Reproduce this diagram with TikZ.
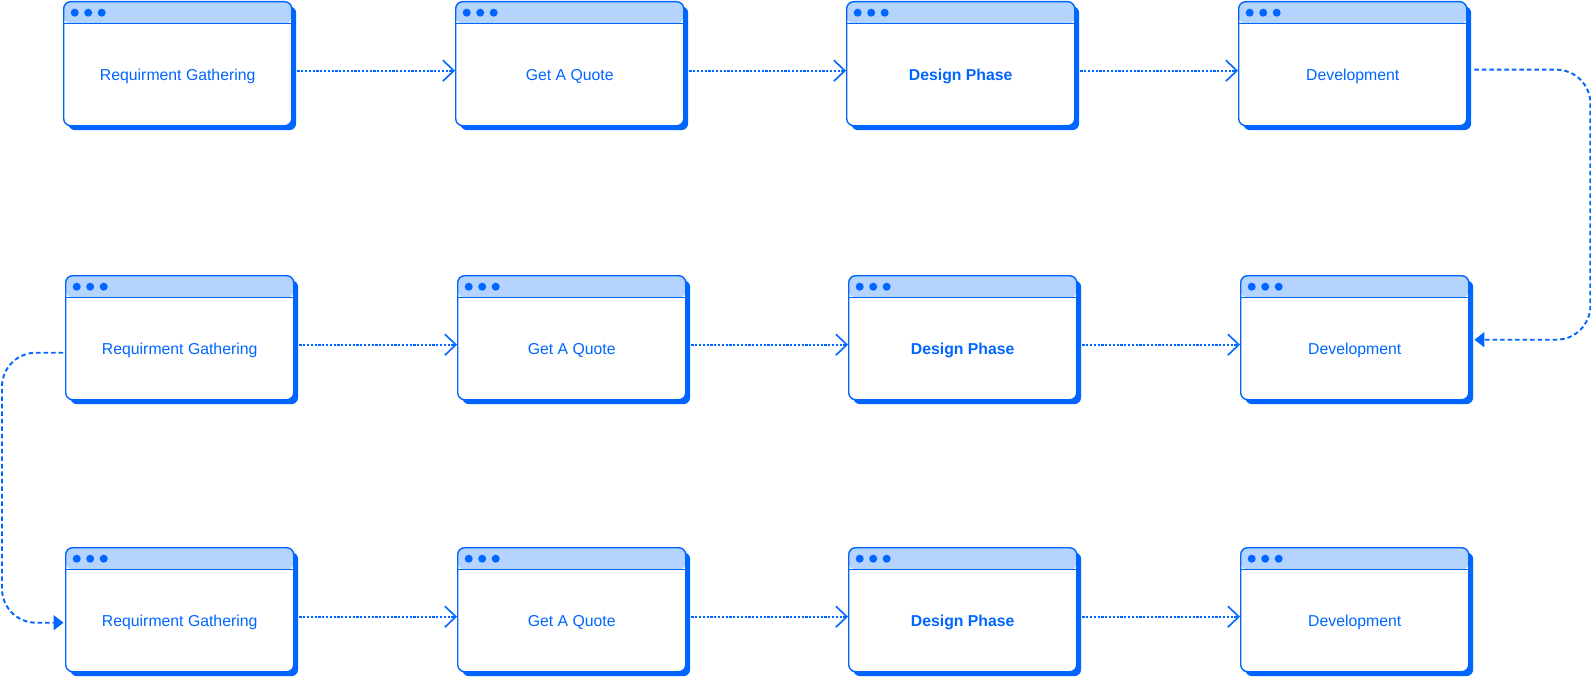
\documentclass[tikz,border=0pt]{standalone}
\usepackage{fontspec}
\setmainfont{Liberation Sans}
\usetikzlibrary{arrows.meta,shadows}
\definecolor{winblue}{HTML}{0066FF}
\definecolor{headblue}{HTML}{B5D3FF}

\begin{document}
\begin{tikzpicture}[x=1pt,y=-1pt,
        window/.style={anchor=north west, draw=winblue, line width=1.4pt, fill=white,
            rounded corners=7pt, minimum width=228pt, minimum height=124pt, inner sep=0pt,
            drop shadow={fill=winblue, opacity=1, shadow xshift=4.5pt, shadow yshift=-4.5pt},
            path picture={
                \fill[headblue] (path picture bounding box.north west) rectangle ([yshift=-22pt]path picture bounding box.north east);
                \draw[winblue, line width=1.4pt] ([yshift=-22pt]path picture bounding box.north west)--([yshift=-22pt]path picture bounding box.north east);
                \fill[winblue] ([xshift=11pt,yshift=-11pt]path picture bounding box.north west) circle (4pt);
                \fill[winblue] ([xshift=24.5pt,yshift=-11pt]path picture bounding box.north west) circle (4pt);
                \fill[winblue] ([xshift=38pt,yshift=-11pt]path picture bounding box.north west) circle (4pt);
            }},
        wintxt/.style={yshift=-12.5pt, text=winblue, font=\fontsize{15.8}{18}\selectfont},
        flow/.style={winblue, line width=2.2pt, dash pattern=on 2.2pt off 1.6pt,
            -{Straight Barb[length=11pt,width=21pt,line width=1.6pt]}},
        loopback/.style={winblue, line width=1.9pt, dash pattern=on 4.5pt off 3pt, rounded corners=34pt,
            -{Triangle[length=10pt,width=15pt]}}]
    \useasboundingbox (0,0) rectangle (1591,677);

    % first row
    \node[window, label={[wintxt]center:Requirment Gathering}] (rg1) at (63,1) {};
    \node[window, label={[wintxt]center:Get A Quote}] (gq1) at (455,1) {};
    \node[window, label={[wintxt]center:\textbf{Design Phase}}] (dp1) at (846,1) {};
    \node[window, label={[wintxt]center:Development}] (dv1) at (1238,1) {};

    % second row
    \node[window, label={[wintxt]center:Requirment Gathering}] (rg2) at (65,275) {};
    \node[window, label={[wintxt]center:Get A Quote}] (gq2) at (457,275) {};
    \node[window, label={[wintxt]center:\textbf{Design Phase}}] (dp2) at (848,275) {};
    \node[window, label={[wintxt]center:Development}] (dv2) at (1240,275) {};

    % third row
    \node[window, label={[wintxt]center:Requirment Gathering}] (rg3) at (65,547) {};
    \node[window, label={[wintxt]center:Get A Quote}] (gq3) at (457,547) {};
    \node[window, label={[wintxt]center:\textbf{Design Phase}}] (dp3) at (848,547) {};
    \node[window, label={[wintxt]center:Development}] (dv3) at (1240,547) {};

    % dotted steps
    \draw[flow] ([xshift=5pt,yshift=-7pt]rg1.east)--([yshift=-7pt]gq1.west);
    \draw[flow] ([xshift=5pt,yshift=-7pt]gq1.east)--([yshift=-7pt]dp1.west);
    \draw[flow] ([xshift=5pt,yshift=-7pt]dp1.east)--([yshift=-7pt]dv1.west);
    \draw[flow] ([xshift=5pt,yshift=-7pt]rg2.east)--([yshift=-7pt]gq2.west);
    \draw[flow] ([xshift=5pt,yshift=-7pt]gq2.east)--([yshift=-7pt]dp2.west);
    \draw[flow] ([xshift=5pt,yshift=-7pt]dp2.east)--([yshift=-7pt]dv2.west);
    \draw[flow] ([xshift=5pt,yshift=-7pt]rg3.east)--([yshift=-7pt]gq3.west);
    \draw[flow] ([xshift=5pt,yshift=-7pt]gq3.east)--([yshift=-7pt]dp3.west);
    \draw[flow] ([xshift=5pt,yshift=-7pt]dp3.east)--([yshift=-7pt]dv3.west);

    % dashed turns
    \draw[loopback] ([xshift=7pt,yshift=-6pt]dv1.east)--++(116,0) |- ([xshift=5pt,yshift=-2pt]dv2.east);
    \draw[loopback] ([xshift=-2pt,yshift=-15pt]rg2.west)--++(-61,0) |- ([xshift=-1.5pt,yshift=-13pt]rg3.west);
\end{tikzpicture}
\end{document}
